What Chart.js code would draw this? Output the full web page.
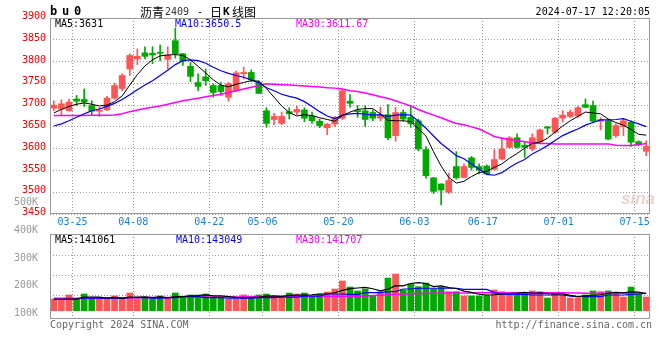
<!DOCTYPE html>
<html>
<head>
<meta charset="utf-8">
<script src="https://cdn.jsdelivr.net/npm/chart.js@4.4.1/dist/chart.umd.min.js"></script>
<style>
  html, body { margin: 0; padding: 0; background: #ffffff; }
  #wrap { position: relative; width: 660px; height: 360px; overflow: hidden; background: #ffffff; }
  #wrap canvas { position: absolute; left: 0; }
  #cMain { top: 0; }
  #cVol { top: 190px; }
</style>
</head>
<body>
<div id="wrap">
  <canvas id="cMain" width="660" height="232"></canvas>
  <canvas id="cVol" width="660" height="170"></canvas>
</div>
<script>
// ---------------- data ----------------
const DATES = ['03-20','03-21','03-22','03-25','03-26','03-27','03-28','03-29',
  '04-01','04-02','04-03','04-08','04-09','04-10','04-11','04-12','04-15','04-16','04-17','04-18','04-19',
  '04-22','04-23','04-24','04-25','04-26','04-29','04-30',
  '05-06','05-07','05-08','05-09','05-10','05-13','05-14','05-15','05-16','05-17','05-20','05-21','05-22','05-23','05-24',
  '05-27','05-28','05-29','05-30','05-31',
  '06-03','06-04','06-05','06-06','06-07','06-11','06-12','06-13','06-14','06-17','06-18','06-19','06-20','06-21',
  '06-24','06-25','06-26','06-27','06-28',
  '07-01','07-02','07-03','07-04','07-05','07-08','07-09','07-10','07-11','07-12','07-15','07-16'];

const OPEN  = [3693,3691,3687,3714,3713,3699,3686,3689,3716,3738,3783,3806,3820,3819,3821,3805,3848,3818,3789,3752,
               3765,3745,3745,3718,3733,3772,3775,3752,3687,3667,3658,3685,3684,3689,3675,3663,3648,3657,3670,3709,
               3687,3687,3683,3670,3678,3630,3683,3672,3664,3598,3533,3519,3500,3559,3534,3579,3559,3560,3553,3576,
               3603,3625,3608,3599,3615,3650,3638,3670,3674,3675,3701,3699,3663,3664,3630,3651,3661,3616,3594];
const HIGH  = [3710,3712,3714,3722,3737,3710,3695,3720,3750,3772,3818,3829,3834,3834,3838,3834,3877,3819,3798,3772,
               3783,3749,3752,3752,3778,3787,3781,3756,3694,3681,3684,3694,3697,3694,3684,3668,3658,3674,3735,3724,
               3699,3699,3689,3695,3701,3695,3689,3699,3668,3605,3534,3519,3544,3593,3565,3582,3565,3563,3598,3626,
               3628,3634,3615,3634,3645,3651,3672,3687,3689,3697,3714,3709,3671,3668,3657,3668,3664,3618,3618];
const LOW   = [3687,3676,3686,3699,3697,3676,3674,3687,3714,3733,3768,3793,3806,3795,3802,3783,3808,3791,3754,3733,
               3745,3718,3722,3709,3731,3760,3754,3726,3649,3655,3655,3668,3678,3662,3658,3648,3632,3651,3667,3695,
               3672,3651,3664,3664,3620,3617,3663,3649,3595,3532,3497,3471,3497,3530,3533,3551,3542,3540,3551,3574,
               3601,3601,3580,3595,3612,3634,3635,3661,3671,3672,3694,3661,3643,3620,3626,3630,3605,3607,3584];
const CLOSE = [3700,3703,3707,3709,3707,3686,3688,3716,3745,3768,3814,3812,3812,3815,3819,3815,3818,3801,3766,3743,
               3756,3729,3731,3749,3774,3775,3758,3727,3658,3674,3674,3680,3690,3670,3664,3653,3656,3672,3733,3704,
               3685,3667,3670,3676,3625,3683,3668,3657,3599,3538,3502,3505,3527,3533,3559,3557,3551,3542,3575,3599,
               3625,3603,3603,3625,3643,3647,3670,3677,3684,3694,3695,3663,3667,3622,3653,3664,3615,3609,3605];

const MA5  = [3682,3690,3697,3702,3705,3702,3698,3700,3708,3721,3746,3770,3790,3804,3813,3815,3816,3814,3804,3789,
              3774,3758,3746,3742,3748,3752,3756,3755,3738,3718,3698,3683,3675,3678,3676,3671,3667,3663,3676,3684,
              3690,3692,3692,3680,3665,3664,3664,3662,3646,3629,3593,3560,3534,3521,3525,3536,3545,3548,3557,3565,
              3578,3589,3601,3612,3615,3624,3638,3652,3664,3674,3684,3682,3680,3668,3660,3654,3644,3633,3631];
const MA10 = [3652,3657,3664,3672,3680,3687,3691,3697,3704,3713,3724,3735,3746,3756,3768,3780,3793,3802,3804,3802,
              3796,3787,3779,3773,3768,3764,3758,3751,3740,3733,3725,3720,3716,3708,3697,3685,3675,3669,3677,3680,
              3681,3679,3677,3678,3674,3677,3678,3677,3663,3647,3629,3612,3598,3584,3577,3565,3553,3541,3539,3545,
              3557,3567,3575,3588,3597,3607,3619,3630,3638,3645,3654,3660,3666,3666,3667,3669,3663,3657,3650.5];
const MA30 = [3676,3676,3676,3676,3676,3676.5,3676.5,3677,3677.5,3680,3685,3689,3692,3695,3698,3702,3706,3710,3713,3716,
              3719,3722,3725,3729,3733,3737,3741,3745,3749,3748,3747,3746,3745,3744,3742.5,3741.5,3740,3739,3737,3733,
              3731,3728,3724,3719,3715,3710,3704,3698,3690,3683,3677,3671,3664,3658,3655,3650,3645,3637,3628,3624,
              3621,3619,3616,3613,3612,3612,3611,3611,3611,3611,3611,3611,3611,3611,3608,3607,3607,3609,3611.67];

const VOLUME = [96000,96000,129000,96000,137000,96000,96000,96000,121000,96000,145000,96000,107000,96000,121000,107000,145000,107000,129000,129000,
                137000,107000,107000,96000,96000,129000,107000,129000,137000,107000,107000,145000,137000,145000,121000,137000,153000,178000,244000,194000,
                162000,178000,123000,156000,268000,301000,170000,219000,197000,227000,178000,194000,156000,156000,121000,121000,121000,121000,170000,156000,
                137000,137000,148000,162000,156000,104000,137000,129000,104000,104000,129000,162000,156000,162000,145000,112000,194000,145000,112000];
const VOL_MA5  = [94000,94000,95000,96000,111000,111000,111000,104000,109000,101000,111000,111000,113000,108000,113000,105000,115000,115000,122000,123000,
                  129000,122000,122000,115000,109000,107000,107000,111000,120000,122000,117000,125000,127000,128000,131000,137000,139000,147000,167000,181000,
                  186000,191000,180000,163000,177000,205000,204000,223000,231000,223000,198000,203000,190000,182000,161000,150000,135000,128000,131000,138000,
                  141000,144000,150000,143000,146000,140000,138000,138000,126000,116000,121000,126000,131000,143000,151000,147000,154000,152000,141061];
const VOL_MA10 = [94000,94000,94000,96000,102000,102000,102000,102000,102000,102000,107000,107000,107000,102000,102000,108000,108000,115000,115000,115000,
                  107000,107000,107000,102000,102000,102000,102000,107000,107000,107000,112000,112000,112000,120000,120000,120000,137000,137000,137000,134000,
                  134000,148000,148000,148000,156000,156000,178000,178000,184000,184000,184000,184000,184000,184000,175000,175000,175000,175000,148000,134000,
                  134000,134000,134000,129000,129000,129000,129000,129000,120000,115000,115000,115000,115000,129000,129000,129000,134000,137000,143049];
const VOL_MA30 = [102000,102000,102000,102000,103000,103000,104000,104000,105000,106000,107000,107000,108000,108000,108000,109000,109000,110000,110000,111000,
                  112000,112000,113000,113000,113000,114000,114000,115000,115000,115000,116000,116000,117000,117000,117000,118000,118000,118000,118000,118000,
                  119000,121000,124000,127000,131000,134000,137000,140000,142000,143000,144000,145000,145000,146000,146000,146000,147000,147000,147000,148000,
                  148000,148000,148000,148000,148000,148000,148000,147000,146000,145000,144000,144000,144000,145000,146000,146000,144000,143000,141707];

const DATE_TICKS  = ['03-25','04-08','04-22','05-06','05-20','06-03','06-17','07-01','07-15'];
const PRICE_TICKS = [3450, 3900, 50];            // min, max, step
const VOL_TICKS   = [100000, 200000, 300000, 400000, 500000];

const SYMBOL = 'bu0';
const STAMP = '2024-07-17 12:20:05';
const MA_TEXT  = ['MA5:3631', 'MA10:3650.5', 'MA30:3611.67'];
const VMA_TEXT = ['MA5:141061', 'MA10:143049', 'MA30:141707'];

// ---------------- styling ----------------
const UP = '#ff5555', DOWN = '#00a800';
const GRID = '#999999', FRAME = '#999999';
const C_MA5 = '#000000', C_MA10 = '#0000ff', C_MA30 = '#ff00ff';
const MONO = '"DejaVu Sans Mono", "Liberation Mono", monospace';
const CJK = '"Noto Sans CJK SC", sans-serif';

const candleColors = OPEN.map((o, i) => CLOSE[i] >= o ? UP : DOWN);
const labelIdx = new Set(DATE_TICKS.map(d => DATES.indexOf(d)));
const xGridColor = (c) => (c.index !== undefined && c.type === 'tick' && labelIdx.has(c.index)) ? GRID : 'rgba(0,0,0,0)';

function frame(ctx, a) {
  ctx.save();
  ctx.strokeStyle = FRAME;
  ctx.lineWidth = 1;
  ctx.strokeRect(Math.round(a.left) + 0.5, Math.round(a.top) + 0.5,
                 Math.round(a.right - a.left) - 1, Math.round(a.bottom - a.top) - 1);
  ctx.restore();
}
function txt(ctx, s, x, y, color, font, align) {
  ctx.fillStyle = color; ctx.font = font; ctx.textAlign = align || 'left'; ctx.textBaseline = 'middle';
  ctx.fillText(s, x, y);
}

const mainDeco = {
  id: 'mainDeco',
  beforeDatasetsDraw(chart) {
    const ctx = chart.ctx;
    ctx.save();
    txt(ctx, 'sina', 621, 199, 'rgba(225,170,170,0.55)', 'italic bold 17px "Liberation Sans", sans-serif');
    ctx.restore();
  },
  afterDraw(chart) {
    const ctx = chart.ctx, a = chart.chartArea;
    frame(ctx, a);
    ctx.save();
    const bold = 'bold 12px ' + MONO;
    [...SYMBOL].forEach((ch, k) => txt(ctx, ch, 50 + k * 12, 12, '#000', bold));
    txt(ctx, '沥青', 140, 12, '#000', '12px ' + CJK);
    txt(ctx, '2409', 165, 12, '#333', '10px ' + MONO);
    txt(ctx, '-', 197, 12, '#000', '10px ' + MONO);
    txt(ctx, '日', 210, 12, '#000', '12px ' + CJK);
    txt(ctx, 'K', 223, 12, '#000', 'bold 11px ' + MONO);
    txt(ctx, '线图', 232, 12, '#000', '12px ' + CJK);
    txt(ctx, STAMP, 650, 12, '#000', '10px ' + MONO, 'right');
    txt(ctx, MA_TEXT[0], 55, 24, C_MA5, '10px ' + MONO);
    txt(ctx, MA_TEXT[1], 175, 24, C_MA10, '10px ' + MONO);
    txt(ctx, MA_TEXT[2], 296, 24, C_MA30, '10px ' + MONO);
    ctx.restore();
  }
};

const volDeco = {
  id: 'volDeco',
  afterDraw(chart) {
    const ctx = chart.ctx, a = chart.chartArea;
    frame(ctx, a);
    ctx.save();
    txt(ctx, VMA_TEXT[0], 55, a.top + 6, C_MA5, '10px ' + MONO);
    txt(ctx, VMA_TEXT[1], 176, a.top + 6, C_MA10, '10px ' + MONO);
    txt(ctx, VMA_TEXT[2], 296, a.top + 6, C_MA30, '10px ' + MONO);
    txt(ctx, 'Copyright 2024 SINA.COM', 50, a.bottom + 6, '#666', '10px ' + MONO);
    txt(ctx, 'http://finance.sina.com.cn', 652, a.bottom + 6, '#666', '10px ' + MONO, 'right');
    ctx.restore();
  }
};

const lineDs = (data, color, w, axis) => ({
  type: 'line', data, borderColor: color, borderWidth: w, pointRadius: 0, tension: 0,
  order: 0, yAxisID: axis, clip: 0
});

new Chart(document.getElementById('cMain'), {
  type: 'bar',
  data: {
    labels: DATES,
    datasets: [
      lineDs(MA5, C_MA5, 1, 'y'),
      lineDs(MA10, C_MA10, 1.2, 'y'),
      lineDs(MA30, C_MA30, 1.5, 'y'),
      { data: LOW.map((l, i) => [l, HIGH[i]]), backgroundColor: candleColors, barThickness: 1, grouped: false, order: 2 },
      { data: OPEN.map((o, i) => [o, CLOSE[i]]), backgroundColor: candleColors, barThickness: 6, grouped: false, minBarLength: 1, order: 1 }
    ]
  },
  options: {
    responsive: false, animation: false, devicePixelRatio: 1,
    layout: { padding: { left: 0, right: 10, top: 18, bottom: 0 } },
    plugins: { legend: { display: false }, tooltip: { enabled: false } },
    scales: {
      x: {
        offset: true,
        grid: { offset: true, drawTicks: false, color: xGridColor, lineWidth: 1 },
        border: { display: false, dash: [1, 2] },
        ticks: { autoSkip: false, maxRotation: 0, minRotation: 0, padding: 2, labelOffset: -4,
                 color: '#1a7fd4', font: { family: MONO, size: 10 },
                 callback: (v, i) => labelIdx.has(i) ? DATES[i] : '' },
        afterFit: (s) => { s.height = 18; }
      },
      y: {
        min: PRICE_TICKS[0], max: PRICE_TICKS[1],
        ticks: { stepSize: PRICE_TICKS[2], color: '#ff0000', font: { family: MONO, size: 10 }, padding: 4, labelOffset: -1.5,
                 callback: (v) => String(v) },
        grid: { drawTicks: false, color: GRID },
        border: { display: false, dash: [1, 2] },
        afterFit: (s) => { s.width = 50; }
      }
    }
  },
  plugins: [mainDeco]
});

new Chart(document.getElementById('cVol'), {
  type: 'bar',
  data: {
    labels: DATES,
    datasets: [
      lineDs(VOL_MA5, C_MA5, 1.2, 'yv'),
      lineDs(VOL_MA10, C_MA10, 1.2, 'yv'),
      lineDs(VOL_MA30, C_MA30, 1.5, 'yv'),
      { data: VOLUME, yAxisID: 'yv', backgroundColor: candleColors, barThickness: 6, order: 1 }
    ]
  },
  options: {
    responsive: false, animation: false, devicePixelRatio: 1,
    layout: { padding: { left: 0, right: 10, top: 44, bottom: 41 } },
    plugins: { legend: { display: false }, tooltip: { enabled: false } },
    scales: {
      x: {
        offset: true,
        grid: { offset: true, drawTicks: false, color: xGridColor, lineWidth: 1 },
        border: { display: false, dash: [1, 2] },
        ticks: { display: false },
        afterFit: (s) => { s.height = 0; }
      },
      yv: { display: false, min: -68000, max: 629000 },
      yg: {
        position: 'left', min: -0.175, max: 4.075,
        afterBuildTicks: (s) => { s.ticks = [1, 2, 3].map(v => ({ value: v })); },
        ticks: { display: false },
        grid: { drawTicks: false, color: GRID },
        border: { display: false, dash: [1, 2] },
        afterFit: (s) => { s.width = 0; }
      },
      yl: {
        position: 'left', min: 80500, max: 387400,
        afterBuildTicks: (s) => { s.ticks = VOL_TICKS.map(v => ({ value: v })); },
        ticks: { color: '#999999', font: { family: MONO, size: 10 }, padding: 4, callback: (v) => (v / 1000) + 'K' },
        grid: { display: false },
        border: { display: false },
        afterFit: (s) => { s.width = 50; }
      }
    }
  },
  plugins: [volDeco]
});
</script>
</body>
</html>
